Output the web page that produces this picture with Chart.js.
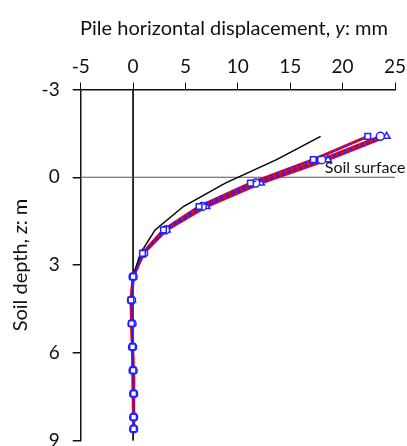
<!DOCTYPE html>
<html>
<head>
<meta charset="utf-8">
<script src="https://cdn.jsdelivr.net/npm/chart.js@4/dist/chart.umd.min.js"></script>
<style>
  html, body { margin: 0; padding: 0; background: #fff; }
  #chart { display: block; }
</style>
</head>
<body>
<canvas id="chart" width="407" height="446"></canvas>
<script>
// --- DATA ---
const depths = [-1.4, -0.6, 0.2, 1.0, 1.8, 2.6, 3.4, 4.2, 5.0, 5.8, 6.6, 7.4, 8.2, 8.6];
const dispSquare = [22.4, 17.2, 11.2, 6.3, 2.9, 0.9, 0, -0.2, -0.15, -0.05, 0, 0.05, 0.05, 0.05];
const dispCircle = [23.6, 18.0, 11.7, 6.6, 3.1, 1.0, 0, -0.15, -0.1, -0.05, 0, 0.05, 0.05, 0.05];
const dispTriangle = [24.2, 18.6, 12.2, 7.0, 3.2, 1.0, 0, -0.1, -0.1, -0.05, 0, 0.05, 0.05, 0.05];
const blackDepths = [-1.4, -0.6, 0.2, 1.0, 1.8, 2.6, 3.4];
const dispBlack = [17.9, 13.7, 8.8, 4.8, 2.1, 0.7, 0];
const xTicks = [-5, 0, 5, 10, 15, 20, 25];
const yTicks = [-3, 0, 3, 6, 9];

const FONT = "Lato, 'Open Sans', sans-serif";

const toPoints = (xs, ys) => xs.map((x, i) => ({ x: x, y: ys[i] }));

const redLine = (vals) => ({
  data: toPoints(vals, depths),
  borderColor: "#ff0000",
  borderWidth: 3,
  pointRadius: 0,
  showLine: true,
  order: 3
});

const blueLine = (vals, style) => ({
  data: toPoints(vals, depths),
  borderColor: "#2222ff",
  borderWidth: 1.5,
  borderDash: [4, 2],
  pointStyle: style,
  pointRadius: 4,
  pointBorderWidth: 1.5,
  pointBorderColor: "#2222ff",
  pointBackgroundColor: "#ffffff",
  showLine: true,
  order: 1
});

// draws axis titles and the soil surface note
const textPlugin = {
  id: "texts",
  afterDraw(chart) {
    const { ctx, chartArea, scales } = chart;
    ctx.save();
    ctx.fillStyle = "#111";
    ctx.textBaseline = "alphabetic";

    // top title with italic y
    const parts = [
      ["Pile horizontal displacement, ", "20px " + FONT],
      ["y", "italic 20px " + FONT],
      [": mm", "20px " + FONT]
    ];
    let total = 0;
    parts.forEach(([t, f]) => { ctx.font = f; total += ctx.measureText(t).width; });
    let x = 234 - total / 2;
    parts.forEach(([t, f]) => {
      ctx.font = f;
      ctx.textAlign = "left";
      ctx.fillText(t, x, 35);
      x += ctx.measureText(t).width;
    });

    // left title, rotated
    const lparts = [
      ["Soil depth, ", "20px " + FONT],
      ["z", "italic 20px " + FONT],
      [": m", "20px " + FONT]
    ];
    let ltotal = 0;
    lparts.forEach(([t, f]) => { ctx.font = f; ltotal += ctx.measureText(t).width; });
    ctx.translate(27, (chartArea.top + chartArea.bottom) / 2);
    ctx.rotate(-Math.PI / 2);
    let lx = -ltotal / 2;
    lparts.forEach(([t, f]) => {
      ctx.font = f;
      ctx.textAlign = "left";
      ctx.fillText(t, lx, 0);
      lx += ctx.measureText(t).width;
    });
    ctx.setTransform(1, 0, 0, 1, 0, 0);

    // soil surface label
    ctx.font = "16px " + FONT;
    ctx.textAlign = "left";
    ctx.textBaseline = "bottom";
    ctx.fillText("Soil surface", scales.x.getPixelForValue(18.3), scales.y.getPixelForValue(0) - 1);
    ctx.restore();
  }
};

new Chart(document.getElementById("chart"), {
  type: "scatter",
  data: {
    datasets: [
      {
        data: [{ x: -5, y: 0 }, { x: 25, y: 0 }],
        borderColor: "#555",
        borderWidth: 1,
        pointRadius: 0,
        showLine: true,
        order: 10
      },
      {
        data: [{ x: 0, y: -3 }, { x: 0, y: 9 }],
        borderColor: "#111",
        borderWidth: 1,
        pointRadius: 0,
        showLine: true,
        order: 10
      },
      {
        data: toPoints(dispBlack, blackDepths),
        borderColor: "#000",
        borderWidth: 1.5,
        pointRadius: 0,
        showLine: true,
        order: 2
      },
      redLine(dispSquare),
      redLine(dispCircle),
      redLine(dispTriangle),
      blueLine(dispSquare, "rect"),
      blueLine(dispCircle, "circle"),
      blueLine(dispTriangle, "triangle")
    ]
  },
  options: {
    responsive: false,
    animation: false,
    clip: false,
    layout: { padding: { left: 0, right: 12, top: 0, bottom: 4 } },
    plugins: { legend: { display: false }, tooltip: { enabled: false } },
    scales: {
      x: {
        type: "linear",
        position: "top",
        min: -5,
        max: 25,
        afterBuildTicks: (s) => { s.ticks = xTicks.map(v => ({ value: v })); },
        afterFit: (s) => { s.height = 89.5; s.paddingLeft = 0; s.paddingRight = 0; },
        ticks: { color: "#111", font: { family: FONT, size: 19 }, padding: 4, maxRotation: 0 },
        grid: { display: true, drawOnChartArea: false, drawTicks: true, tickLength: 7, color: "#111", lineWidth: 1 },
        border: { display: true, color: "#111", width: 1.5 }
      },
      y: {
        type: "linear",
        reverse: true,
        min: -3,
        max: 9,
        afterBuildTicks: (s) => { s.ticks = yTicks.map(v => ({ value: v })); },
        afterFit: (s) => { s.width = 80.7; s.paddingTop = 0; s.paddingBottom = 0; },
        ticks: { color: "#111", font: { family: FONT, size: 19 }, padding: 13 },
        grid: { display: true, drawOnChartArea: false, drawTicks: true, tickLength: 8, color: "#111", lineWidth: 1.5 },
        border: { display: true, color: "#111", width: 1.5 }
      }
    }
  },
  plugins: [textPlugin]
});
</script>
</body>
</html>
